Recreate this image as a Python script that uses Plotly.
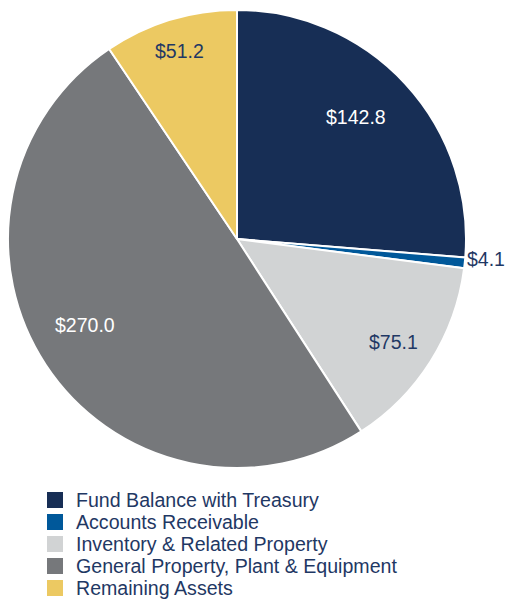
import math
import plotly.graph_objects as go

categories = ["Fund Balance with Treasury", "Accounts Receivable", "Inventory & Related Property",
              "General Property, Plant & Equipment", "Remaining Assets"]
values = [142.8, 4.1, 75.1, 270.0, 51.2]
labels_text = ["$142.8", "$4.1", "$75.1", "$270.0", "$51.2"]
colors = ["#172e55", "#00589a", "#d1d3d4", "#76787b", "#ecc962"]
text_colors = ["#ffffff", "#1f3864", "#1f3864", "#ffffff", "#1f3864"]
label_radius = [0.744, 1.092, 0.819, 0.764, 0.858]  # fraction of pie radius for each label
label_shift = [-3.0, -1.5, 1.0, 4.0, 0.0]  # degrees of label shift from slice mid-angle

OFF = 8  # page body margin
W, H = 513, 599 - OFF
CX, CY = 237 - OFF, 239 - OFF  # pie centre in figure pixels
R = min(CX, 231)
FONT = "Liberation Sans, Arial, sans-serif"
NAVY = "#1f3864"

fig = go.Figure(go.Pie(
    labels=categories, values=values, textinfo="none",
    sort=False, direction="clockwise", rotation=0,
    marker=dict(colors=colors, line=dict(color="white", width=2)),
    domain=dict(x=[(CX - R) / W, (CX + R) / W], y=[1 - (CY + R) / H, 1 - (CY - R) / H]),
    hoverinfo="label+value", showlegend=False,
))

# data labels placed near slice mid-angles
total = sum(values)
cum = 0.0
annotations = []
for v, t, c, f, s in zip(values, labels_text, text_colors, label_radius, label_shift):
    mid = (cum + v / 2) / total * 2 * math.pi + math.radians(s)
    cum += v
    px = CX + f * R * math.sin(mid)
    py = CY - f * R * math.cos(mid)
    annotations.append(dict(x=px / W, y=1 - py / H, xref="paper", yref="paper", text=t,
                            showarrow=False, xanchor="center", yanchor="middle",
                            font=dict(family=FONT, size=19.5, color=c)))

# legend drawn as squares + text
shapes = []
row0, gap = 500 - OFF, 22
for i, (name, col) in enumerate(zip(categories, colors)):
    yc = row0 + i * gap
    shapes.append(dict(type="rect", xref="paper", yref="paper",
                       x0=(47 - OFF) / W, x1=(63 - OFF) / W,
                       y0=1 - (yc + 8) / H, y1=1 - (yc - 8) / H,
                       fillcolor=col, line=dict(width=0)))
    annotations.append(dict(x=(74 - OFF) / W, y=1 - yc / H, xref="paper", yref="paper", text=name,
                            showarrow=False, xanchor="left", yanchor="middle",
                            font=dict(family=FONT, size=19.6, color=NAVY)))

fig.update_layout(
    width=W, height=H, margin=dict(l=0, r=0, t=0, b=0),
    paper_bgcolor="white", plot_bgcolor="white",
    showlegend=False, annotations=annotations, shapes=shapes,
)
fig.write_html("out.html")
